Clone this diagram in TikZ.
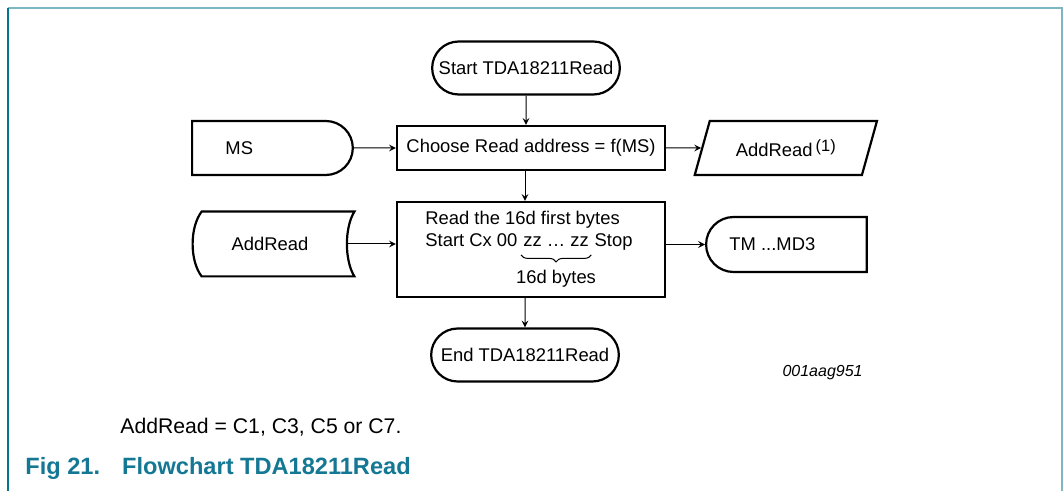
\documentclass[tikz,border=0pt]{standalone}
\usepackage{fontspec}
\setmainfont{Liberation Sans}
\usetikzlibrary{shapes.geometric,shapes.misc,arrows,positioning,chains,decorations.pathreplacing}
\definecolor{frameline}{RGB}{125,183,194}
\definecolor{framedark}{RGB}{0,118,143}
\definecolor{figblue}{RGB}{20,120,148}

\begin{document}
\begin{tikzpicture}[x=0.5pt, y=-0.5pt, >=stealth,
    font=\fontsize{9.2}{11}\selectfont,
    box/.style={rectangle, draw, line width=1.1pt, minimum width=134pt, inner sep=0pt},
    term/.style={rounded rectangle, draw, line width=1.1pt, minimum width=100.5pt, minimum height=26.5pt},
    msbox/.style={rounded rectangle, rounded rectangle left arc=none, draw, line width=1.1pt,
      minimum width=87pt, minimum height=27pt},
    tmbox/.style={rounded rectangle, rounded rectangle right arc=none, draw, line width=1.1pt,
      minimum width=87pt, minimum height=27.5pt},
    para/.style={trapezium, trapezium left angle=70, trapezium right angle=110,
      trapezium stretches=true, draw, line width=1.1pt, minimum width=91.5pt, minimum height=27pt},
    store/.style={rectangle, minimum width=76pt, minimum height=32pt, inner sep=0pt},
    txt/.style={inner sep=0pt},
    flow/.style={->, line width=0.5pt}]

  \useasboundingbox (0,0) rectangle (1063,491);
  \draw[frameline, line width=1pt] (8,8) -- (1061.5,8) -- (1061.5,491);
  \draw[framedark, line width=0.75pt] (8,8) -- (8,491);

  % main column
  \node[term] (start) at (526,68) {Start TDA18211Read};
  \node[box, minimum height=22pt] (choose) at (531,148) {Choose Read address = f(MS)};
  \node[box, minimum height=47.5pt] (read) at (531,249.5) {};
  \node[term] (end) at (525,355) {End TDA18211Read};

  % inputs and outputs
  \node[msbox, left=21pt of choose] (ms) {};
  \node[txt, anchor=west] (mstxt) at ([xshift=17pt]ms.west) {MS};
  \node[para, right=17.5pt of choose] (addout)
    {AddRead\,\raisebox{0.55ex}{\fontsize{8.2}{9}\selectfont(1)}\hspace{8pt}};
  \node[store] (addin) at (278,244) {};
  \node[txt] (addintxt) at (270,244) {AddRead};
  \draw[line width=1.1pt] (addin.north west) -- (addin.north east)
    .. controls ([shift={(-5pt,-8pt)}]addin.north east) and ([shift={(-5pt,8pt)}]addin.south east) .. (addin.south east)
    -- (addin.south west)
    .. controls ([shift={(-6pt,8pt)}]addin.south west) and ([shift={(-6pt,-8pt)}]addin.north west) .. (addin.north west)
    -- cycle;
  \node[tmbox, anchor=west] (tm) at (705,244.5) {};
  \node[txt, anchor=west] (tmtxt) at (729,244.5) {TM ...MD3};

  % text of the read box
  \node[txt, anchor=base west] (rd1) at (425,225) {Read the 16d first bytes};
  \begin{scope}[start chain=going right, node distance=2.56pt,
      every node/.style={txt, text height=7pt, text depth=2pt}]
    \node[on chain, anchor=base west] (rd2) at (425,247) {Start Cx 00};
    \node[on chain] (zz) {zz … zz};
    \node[on chain] (stop) {Stop};
  \end{scope}
  \draw[decorate, decoration={brace, mirror, amplitude=3.5pt}, line width=0.5pt]
    ([shift={(-1pt,-1.75pt)}]zz.south west) -- ([shift={(1pt,-1.75pt)}]zz.south east);
  \node[txt, anchor=base] (nbytes) at ([yshift=-18.5pt]zz.base) {16d bytes};

  % connectors
  \draw[flow] (start) -- (start |- choose.north);
  \draw[flow] (choose.south -| end) -- (read.north -| end);
  \draw[flow] (read.south -| end) -- (end);
  \draw[flow] (ms) -- (ms -| choose.west);
  \draw[flow] (choose) -- (addout);
  \draw[flow] ([xshift=-3.75pt]addin.east) -- (addin -| read.west);
  \draw[flow] (tm -| read.east) -- (tm);

  % notes
  \node[txt, anchor=base east, font=\fontsize{8}{10}\selectfont\itshape] (code) at (863,376) {001aag951};
  \node[txt, anchor=west, font=\fontsize{10.6}{13}\selectfont] (note) at (120,427) {AddRead = C1, C3, C5 or C7.};
  \node[txt, anchor=west, font=\fontsize{11.8}{14}\selectfont\bfseries, text=figblue] (fig) at (25,468)
    {Fig 21.\hspace{11pt}Flowchart TDA18211Read};
\end{tikzpicture}
\end{document}
